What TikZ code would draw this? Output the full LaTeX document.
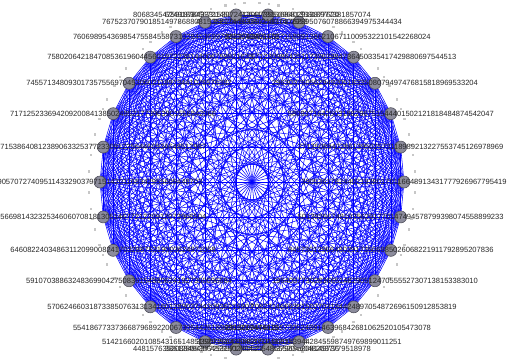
\documentclass[tikz,border=0pt]{standalone}
\usepackage{fontspec}
\setmainfont{Liberation Sans}
\usetikzlibrary{backgrounds}
\definecolor{vfill}{RGB}{140,140,156}
\definecolor{vline}{RGB}{78,78,90}

\begin{document}
\begin{tikzpicture}[
  x=0.03cm, y=-0.03cm,
  vert/.style={circle, draw=vline, fill=vfill, line width=0.5pt, minimum size=0.36cm, inner sep=0pt},
  lbl/.style={font=\fontsize{6.45}{7}\selectfont, text=black!85, inner sep=0pt},
  edge/.style={blue, line width=0.45pt},
  sq/.style={fill=black!22}
]
\useasboundingbox (0,0) rectangle (510,358);
\clip (0,0) rectangle (510,358);

\begin{scope}[shift={(252,182)}]
% little gray marks outside each peer
\foreach \k in {0,...,29}
  \foreach \d in {-3.4,0,3.4}
    \fill[sq] ({-12*\k+\d}:163 and 179) +(-1.2,-1.2) rectangle +(1.2,1.2);

\node[vert, label={[lbl]center:3905361782440219380170116648913431777926967795419}] (v0) at (0:152 and 168) {};
\node[vert, label={[lbl]center:2713508942286139502573118989213227553745126978969}] (v1) at (-12:152 and 168) {};
\node[vert, label={[lbl]center:5809371642503188296751544401502121818484874542047}] (v2) at (-24:152 and 168) {};
\node[vert, label={[lbl]center:2963037605629492051833508079497476815818969533204}] (v3) at (-36:152 and 168) {};
\node[vert, label={[lbl]center:5712309864251173062984736450335417429880697544513}] (v4) at (-48:152 and 168) {};
\node[vert, label={[lbl]center:8932762401603715899138621067110095322101542268024}] (v5) at (-60:152 and 168) {};
\node[vert, label={[lbl]center:4071396258163057248101762895076078866394975344434}] (v6) at (-72:152 and 168) {};
\node[vert, label={[lbl]center:6249183056721450938264173150968135818977381857074}] (v7) at (-84:152 and 168) {};
\node[vert, label={[lbl]center:8068345475918784333153072412097355168402913877620}] (v8) at (-96:152 and 168) {};
\node[vert, label={[lbl]center:7675237079018514978688081535217449906621837402953}] (v9) at (-108:152 and 168) {};
\node[vert, label={[lbl]center:7606989543698547558455873102845369970213648855176}] (v10) at (-120:152 and 168) {};
\node[vert, label={[lbl]center:7580206421847085361960445601972238144006758921635}] (v11) at (-132:152 and 168) {};
\node[vert, label={[lbl]center:7455713480930173575569704530602118973441026576382}] (v12) at (-144:152 and 168) {};
\node[vert, label={[lbl]center:7171252336942092008413850249521773963901556842066}] (v13) at (-156:152 and 168) {};
\node[vert, label={[lbl]center:7153864081238906332537723309122564460934648512987}] (v14) at (-168:152 and 168) {};
\node[vert, label={[lbl]center:9057072740951143329037971514201168342955609448703}] (v15) at (-180:152 and 168) {};
\node[vert, label={[lbl]center:5669814323253460607081813051467721220912073966504}] (v16) at (-192:152 and 168) {};
\node[vert, label={[lbl]center:6460822403486311209900824170328875319003624971058}] (v17) at (-204:152 and 168) {};
\node[vert, label={[lbl]center:5910703886324836990427508361548806241927350096684}] (v18) at (-216:152 and 168) {};
\node[vert, label={[lbl]center:5706246603187338507631313416012890374420836215907}] (v19) at (-228:152 and 168) {};
\node[vert, label={[lbl]center:5541867733736687968922006730544261898305217444610}] (v20) at (-240:152 and 168) {};
\node[vert, label={[lbl]center:5142166020108543165148515293510690453716432008124}] (v21) at (-252:152 and 168) {};
\node[vert, label={[lbl]center:4481576352088494377255971760521483379655208149736}] (v22) at (-264:152 and 168) {};
\node[vert, label={[lbl]center:3861280539645319028643554865520490482037779518978}] (v23) at (-276:152 and 168) {};
\node[vert, label={[lbl]center:3390726641588205319061539442845598749769899011251}] (v24) at (-288:152 and 168) {};
\node[vert, label={[lbl]center:2813609476125573002488146396842681062520105473078}] (v25) at (-300:152 and 168) {};
\node[vert, label={[lbl]center:7082314669381502703184424897054872696150912853819}] (v26) at (-312:152 and 168) {};
\node[vert, label={[lbl]center:1964057730283665148290512470555527307138153383010}] (v27) at (-324:152 and 168) {};
\node[vert, label={[lbl]center:8457301296648029173506885026068221911792895207836}] (v28) at (-336:152 and 168) {};
\node[vert, label={[lbl]center:5013826674910356291770147494578799398074558899233}] (v29) at (-348:152 and 168) {};
\end{scope}

% every peer linked to every other
\begin{scope}[on background layer]
\foreach \i [evaluate=\i as \k using {int(\i+1)}] in {0,...,28}
  \foreach \j in {\k,...,29}
    \draw[edge] (v\i.center) -- (v\j.center);
\end{scope}
\end{tikzpicture}
\end{document}
